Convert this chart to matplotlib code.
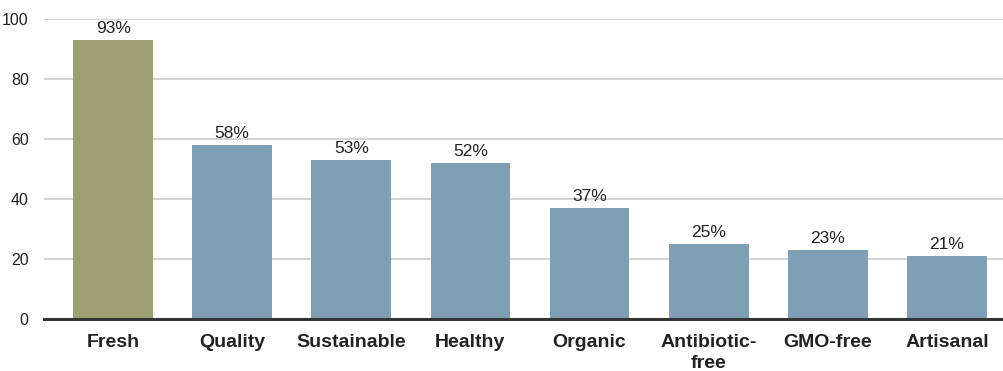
import matplotlib
matplotlib.use("Agg")
import matplotlib.pyplot as plt

categories = ["Fresh", "Quality", "Sustainable", "Healthy", "Organic",
              "Antibiotic-\nfree", "GMO-free", "Artisanal"]
values = [93, 58, 53, 52, 37, 25, 23, 21]
yticks = [0, 20, 40, 60, 80, 100]

green = "#9ea073"
blue = "#7fa0b4"
colors = [green] + [blue] * (len(values) - 1)

plt.rcParams["font.family"] = ["Liberation Sans", "DejaVu Sans"]

fig = plt.figure(figsize=(10.04, 3.71), dpi=100)
ax = fig.add_axes([44 / 1004, 52 / 371, 1 - 44 / 1004, 300 / 371])

x = list(range(len(values)))
ax.bar(x, values, width=0.67, color=colors, zorder=3)

for xi, v in zip(x, values):
    ax.text(xi, v + 1.2, f"{v}%", ha="center", va="bottom",
            fontsize=12.5, color="#222222", zorder=4)

ax.set_ylim(0, 100)
ax.set_xlim(-0.58, 7.48)
ax.set_yticks(yticks)
ax.set_yticklabels([str(t) for t in yticks], fontsize=11.5, color="#222222")
ax.set_xticks(x)
ax.set_xticklabels(categories, fontsize=14, fontweight="bold", color="#222222",
                   linespacing=1.25)

ax.yaxis.grid(True, color="#cccccc", linewidth=1.2, zorder=0)
ax.tick_params(axis="y", length=0, pad=11)
ax.tick_params(axis="x", length=0, pad=11)
for side in ["top", "right", "left"]:
    ax.spines[side].set_visible(False)
ax.spines["bottom"].set_color("#333333")
ax.spines["bottom"].set_linewidth(2.2)
ax.spines["bottom"].set_zorder(5)

fig.savefig("out.png", dpi=100)
